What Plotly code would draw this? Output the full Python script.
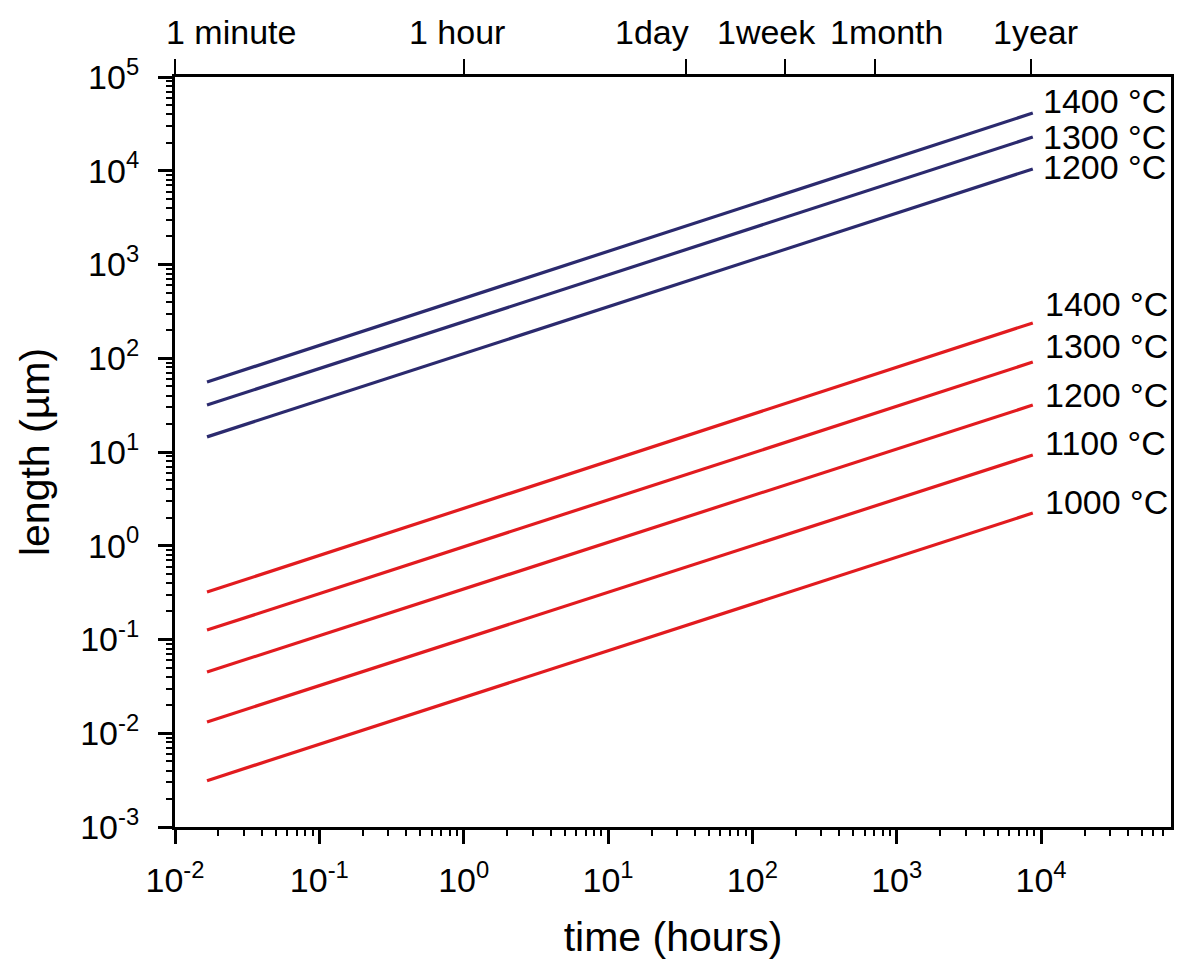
import math
import plotly.graph_objects as go

# ---------------- data ----------------
t_start = 1 / 60          # 1 minute, hours
t_end = 8760              # 1 year, hours

blue_labels = ["1400 °C", "1300 °C", "1200 °C"]
blue_start = [55.8, 31.7, 14.5]
blue_end = [41300, 22900, 10450]

red_labels = ["1400 °C", "1300 °C", "1200 °C", "1100 °C", "1000 °C"]
red_start = [0.321, 0.126, 0.045, 0.0132, 0.00312]
red_end = [238, 91, 31.7, 9.3, 2.23]

x_tickvals = [1e-2, 1e-1, 1e0, 1e1, 1e2, 1e3, 1e4]
x_ticktext = ["10<sup>-2</sup>", "10<sup>-1</sup>", "10<sup>0</sup>", "10<sup>1</sup>",
              "10<sup>2</sup>", "10<sup>3</sup>", "10<sup>4</sup>"]
y_tickvals = [1e-3, 1e-2, 1e-1, 1e0, 1e1, 1e2, 1e3, 1e4, 1e5]
y_ticktext = ["10<sup>-3</sup>", "10<sup>-2</sup>", "10<sup>-1</sup>", "10<sup>0</sup>",
              "10<sup>1</sup>", "10<sup>2</sup>", "10<sup>3</sup>", "10<sup>4</sup>",
              "10<sup>5</sup>"]

top_tickvals = [0.01, 1, 34.5, 169, 705, 8530]
top_labels = ["1 minute", "1 hour", "1day", "1week", "1month", "1year"]
top_label_x = [0.0243, 0.895, 20.1, 125, 853, 9100]

# label offsets (px) relative to line ends
blue_yshift = [12, 0, 2]
red_yshift = [19, 16, 10, 12, 11]

BLUE = "#2b2a6e"
RED = "#e21b1f"
FONT = "Liberation Sans, Arial, sans-serif"

fig = go.Figure()

for lab, s, e in zip(blue_labels, blue_start, blue_end):
    fig.add_trace(go.Scatter(x=[t_start, t_end], y=[s, e], mode="lines",
                             line=dict(color=BLUE, width=3.2), name=lab, showlegend=False))
for lab, s, e in zip(red_labels, red_start, red_end):
    fig.add_trace(go.Scatter(x=[t_start, t_end], y=[s, e], mode="lines",
                             line=dict(color=RED, width=3.2), name=lab, showlegend=False))

# invisible trace to activate the top axis
fig.add_trace(go.Scatter(x=[t_start, t_end], y=[1, 1], xaxis="x2", mode="lines",
                         line=dict(width=0), opacity=0, showlegend=False, hoverinfo="skip"))

annotations = []
for lab, e, ys in zip(blue_labels, blue_end, blue_yshift):
    annotations.append(dict(x=math.log10(t_end), y=math.log10(e), xref="x", yref="y",
                            text=lab, showarrow=False, xanchor="left", yanchor="middle",
                            xshift=8, yshift=ys,
                            font=dict(size=34, color="black", family=FONT)))
for lab, e, ys in zip(red_labels, red_end, red_yshift):
    annotations.append(dict(x=math.log10(t_end), y=math.log10(e), xref="x", yref="y",
                            text=lab, showarrow=False, xanchor="left", yanchor="middle",
                            xshift=10, yshift=ys,
                            font=dict(size=34, color="black", family=FONT)))
for lab, xv in zip(top_labels, top_label_x):
    annotations.append(dict(x=math.log10(xv), y=1, xref="x", yref="paper", text=lab,
                            showarrow=False, xanchor="center", yanchor="bottom", yshift=24,
                            font=dict(size=34, color="black", family=FONT)))

axis_common = dict(showgrid=False, zeroline=False, linecolor="black", linewidth=3,
                   tickcolor="black", tickwidth=3, ticklen=14, ticks="outside",
                   tickfont=dict(size=34, color="black", family=FONT))

fig.update_layout(
    width=1178, height=965,
    margin=dict(l=175, r=4, t=77, b=138),
    paper_bgcolor="white", plot_bgcolor="white",
    font=dict(family=FONT, color="black"),
    xaxis=dict(type="log", range=[-2, 4.9], tickvals=x_tickvals, ticktext=x_ticktext,
               mirror=True, showline=True, ticklabelstandoff=7,
               minor=dict(ticks="outside", ticklen=6, tickwidth=2, tickcolor="black", dtick="D1"),
               title=dict(text="time (hours)", font=dict(size=41, family=FONT), standoff=25),
               **axis_common),
    xaxis2=dict(type="log", range=[-2, 4.9], overlaying="x", side="top", anchor="y",
                tickvals=top_tickvals, showticklabels=False, ticks="outside", ticklen=17,
                tickwidth=2, tickcolor="black", showline=False, showgrid=False, zeroline=False),
    yaxis=dict(type="log", range=[-3, 5], tickvals=y_tickvals, ticktext=y_ticktext,
               mirror=True, showline=True, ticklabelstandoff=12,
               minor=dict(ticks="outside", ticklen=6, tickwidth=2, tickcolor="black", dtick="D1"),
               title=dict(text="length (µm)", font=dict(size=41, family=FONT), standoff=18),
               **axis_common),
    annotations=annotations,
)

fig.write_html("out.html")
